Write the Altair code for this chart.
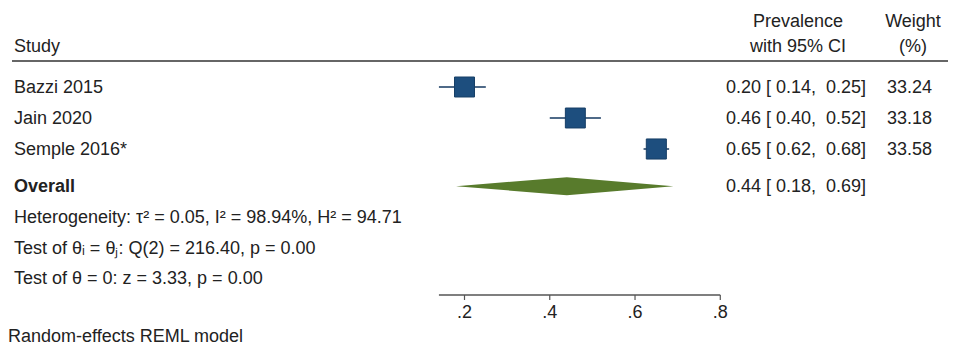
import altair as alt
import pandas as pd

# ---- data ----
studies = ["Bazzi 2015", "Jain 2020", "Semple 2016*"]
prev = [0.20, 0.46, 0.65]
ci_lo = [0.14, 0.40, 0.62]
ci_hi = [0.25, 0.52, 0.68]
weights = [33.24, 33.18, 33.58]
overall_est = 0.44
overall_lo = 0.18
overall_hi = 0.69
tick_values = [0.2, 0.4, 0.6, 0.8]
tick_labels = [".2", ".4", ".6", ".8"]
stats_lines = [
    "Heterogeneity: \u03c4\u00b2 = 0.05, I\u00b2 = 98.94%, H\u00b2 = 94.71",
    "Test of \u03b8\u1d62 = \u03b8\u2c7c: Q(2) = 216.40, p = 0.00",
    "Test of \u03b8 = 0: z = 3.33, p = 0.00",
]
footer = "Random-effects REML model"

# ---- layout ----
W, H = 940, 339
FONT = "Liberation Sans"
FS = 18
TXT = "#222222"
ROW_PX = 31.0
ROW1_Y = 79.0           # plot y of first study row
PX_PER_UNIT = 426.3
X_AT_02 = 456.5

x_dom = [0.2 - X_AT_02 / PX_PER_UNIT, 0.2 + (W - X_AT_02) / PX_PER_UNIT]
y_dom = [1 - ROW1_Y / ROW_PX, 1 + (H - ROW1_Y) / ROW_PX]
xs = alt.Scale(domain=x_dom, nice=False, zero=False)
ys = alt.Scale(domain=y_dom, nice=False, zero=False, reverse=True)

def X(f):
    return alt.X(f, type="quantitative", scale=xs, axis=None)

def X2(f):
    return alt.X2(f)

def Y(f):
    return alt.Y(f, type="quantitative", scale=ys, axis=None)

OVERALL_ROW = 4.2
STATS_ROWS = [5.2, 6.2, 7.15]
AXIS_ROW = 7.71
TICK_ROW2 = 7.871
TICKLAB_ROW = 8.258
HDR1_ROW = -1.139
HDR2_ROW = -0.332
SEP_ROW = 0.161
DIAMOND_HALF = 9.0 / ROW_PX

df = pd.DataFrame({
    "study": studies,
    "prev": prev,
    "lo": ci_lo,
    "hi": ci_hi,
    "w": weights,
    "row": [i + 1 for i in range(len(studies))],
})
df["ci_txt"] = [
    f"{p:.2f} [\u00a0{l:.2f},\u00a0\u00a0{h:.2f}]" for p, l, h in zip(prev, ci_lo, ci_hi)
]
df["w_txt"] = [f"{w:.2f}" for w in weights]
df["size"] = [w * 12 for w in weights]

diamond = pd.DataFrame({
    "x": [overall_lo, overall_est, overall_hi],
    "top": [OVERALL_ROW, OVERALL_ROW - DIAMOND_HALF, OVERALL_ROW],
    "bot": [OVERALL_ROW, OVERALL_ROW + DIAMOND_HALF, OVERALL_ROW],
})

overall_df = pd.DataFrame({
    "label": ["Overall"],
    "row": [OVERALL_ROW],
    "ci_txt": [f"{overall_est:.2f} [\u00a0{overall_lo:.2f},\u00a0\u00a0{overall_hi:.2f}]"],
})

stats_df = pd.DataFrame({"label": stats_lines, "row": STATS_ROWS})

ticks_df = pd.DataFrame({"v": tick_values, "lab": tick_labels,
                         "r1": AXIS_ROW, "r2": TICK_ROW2, "rl": TICKLAB_ROW})
axis_df = pd.DataFrame({"x1": [min(ci_lo)], "x2": [max(tick_values)], "row": [AXIS_ROW]})

hdr_df = pd.DataFrame({
    "label": ["Study", "Prevalence", "with 95% CI", "Weight", "(%)"],
    "row": [HDR2_ROW, HDR1_ROW, HDR2_ROW, HDR1_ROW, HDR2_ROW],
    "col": ["s", "p", "p", "w", "w"],
})

def text_layer(data, field, x, align="left", bold=False, row="row"):
    return alt.Chart(data).mark_text(
        align=align, baseline="middle", dy=1, font=FONT, fontSize=FS,
        color=TXT, fontWeight="bold" if bold else "normal",
    ).encode(x=alt.value(x), y=Y(row), text=alt.Text(field))

base = alt.Chart(df)

ci_rules = base.mark_rule(color="#4f6a88", strokeWidth=2).encode(
    x=X("lo"), x2=X2("hi"), y=Y("row"))
squares = base.mark_square(color="#1d4e7e", opacity=1, stroke="#173f66", strokeWidth=1).encode(
    x=X("prev"), y=Y("row"), size=alt.Size("size", type="quantitative", scale=None, legend=None))

dia = alt.Chart(diamond).mark_area(color="#587b2c", opacity=1, orient="vertical").encode(
    x=X("x"), y=Y("top"), y2=alt.Y2("bot"))

sep = alt.Chart(pd.DataFrame({"row": [SEP_ROW]})).mark_rule(color="#333333", strokeWidth=1.6).encode(
    x=alt.value(4), x2=alt.value(940), y=Y("row"))

axis_line = alt.Chart(axis_df).mark_rule(color="#555555", strokeWidth=1.5).encode(
    x=X("x1"), x2=X2("x2"), y=Y("row"))
tick_marks = alt.Chart(ticks_df).mark_rule(color="#555555", strokeWidth=1.2).encode(
    x=X("v"), y=Y("r1"), y2=alt.Y2("r2"))
tick_text = alt.Chart(ticks_df).mark_text(
    align="center", baseline="middle", dy=1, font=FONT, fontSize=FS, color=TXT
).encode(x=X("v"), y=Y("rl"), text="lab")

hdr_study = text_layer(hdr_df[hdr_df.col == "s"], "label", 6)
hdr_prev = text_layer(hdr_df[hdr_df.col == "p"], "label", 790, align="center")
hdr_w = text_layer(hdr_df[hdr_df.col == "w"], "label", 905, align="center")

names = text_layer(df, "study", 6)
ci_txt = text_layer(df, "ci_txt", 718)
w_txt = text_layer(df, "w_txt", 879)
ov_name = text_layer(overall_df, "label", 6, bold=True)
ov_ci = text_layer(overall_df, "ci_txt", 718)
stats = text_layer(stats_df, "label", 6)

foot = alt.Chart(pd.DataFrame({"label": [footer]})).mark_text(
    align="left", baseline="alphabetic", font=FONT, fontSize=FS, color=TXT
).encode(x=alt.value(0), y=alt.value(334), text="label")

chart = alt.layer(
    sep, ci_rules, squares, dia, axis_line, tick_marks, tick_text,
    hdr_study, hdr_prev, hdr_w, names, ci_txt, w_txt, ov_name, ov_ci, stats, foot,
).properties(
    width=W, height=H, autosize=alt.AutoSizeParams(type="none"), padding=0,
    view=alt.ViewBackground(stroke="transparent", strokeWidth=0, fill="white"),
).configure_view(strokeWidth=0, stroke="transparent").configure(background="white")

chart.save("out.html", embed_options={"renderer": "svg", "actions": False})
